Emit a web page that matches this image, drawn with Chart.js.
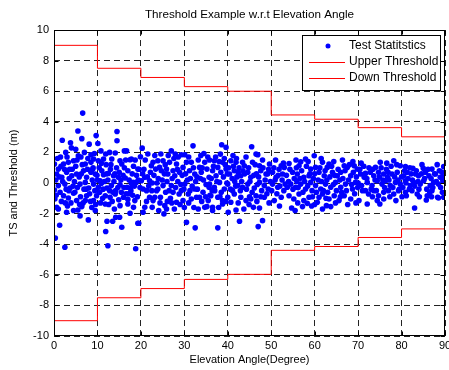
<!DOCTYPE html>
<html>
<head>
<meta charset="utf-8">
<script src="https://cdn.jsdelivr.net/npm/chart.js@4.4.1/dist/chart.umd.min.js"></script>
<style>
  html, body { margin: 0; padding: 0; background: #fff; }
  #wrap { width: 449px; height: 370px; }
</style>
</head>
<body>
<div id="wrap"><canvas id="thresholdChart" width="449" height="370"></canvas></div>
<script>
// Threshold steps (every 10 degrees)
const stepAngles = [0, 10, 20, 30, 40, 50, 60, 70, 80, 90];
const upperThreshold = [9, 7.5, 6.9, 6.3, 6.0, 4.45, 4.17, 3.62, 3.02, 3.02];
const downThreshold = [-9, -7.5, -6.9, -6.3, -5.97, -4.4, -4.15, -3.56, -3.0, -3.0];

// Tick labels
const angleTicks = [0, 10, 20, 30, 40, 50, 60, 70, 80, 90];
const tsTicks = [-10, -8, -6, -4, -2, 0, 2, 4, 6, 8, 10];

// Test statistics, [angle, value]
const testStats = [
  // 0 - 20 deg
  [6.6,4.57],[5.5,3.4],[1.9,2.8],[3.8,2.63],[6.4,2.9],[8.1,2.54],[9.7,3.1],[10.1,2.58],[14.5,3.37],[14.5,2.76],
  [10.8,2.1],[5.0,2.2],[2.7,2.0],[16.2,2.1],[14.1,1.96],[9.3,1.93],[8.5,1.85],[0.1,1.24],[1.0,0.91],[2.2,1.24],
  [3.3,1.35],[4.5,1.46],[5.6,1.78],[6.2,1.7],[7.2,1.24],[8.5,1.35],[9.1,1.57],[10.2,1.46],[11.4,1.57],[13.3,1.57],
  [15.2,1.46],[15.6,1.24],[17.5,1.52],[0.6,0.59],[1.8,0.37],[2.9,0.7],[4.1,0.48],[5.2,0.59],[6.8,0.8],[7.5,0.37],
  [8.5,0.7],[9.5,0.59],[10.6,0.15],[11.4,0.54],[12.5,0.63],[13.7,0.48],[14.8,0.37],[16.4,0.33],[17.3,0.2],[0.1,-0.46],
  [1.0,-0.17],[2.5,-0.07],[3.7,-0.33],[4.8,-0.61],[6.0,-0.07],[7.2,0.04],[8.0,-0.33],[9.1,-0.07],[10.2,-0.28],[10.9,-0.02],
  [12.2,-0.33],[13.2,-0.17],[14.2,-0.5],[15.2,-0.11],[16.8,-0.28],[17.8,-0.02],[0.2,-1.04],[2.2,-0.83],[3.3,-0.98],[4.5,-0.67],
  [5.2,-1.15],[7.2,-1.15],[7.5,-0.83],[9.1,-1.15],[9.8,-0.83],[11.8,-0.83],[12.9,-0.93],[14.1,-0.72],[16.0,-0.93],[17.0,-1.07],
  [0.6,-1.59],[1.0,-1.7],[2.9,-1.91],[4.5,-1.8],[5.5,-1.76],[6.4,-1.54],[9.5,-1.8],[11.8,-1.37],[15.2,-1.48],[17.0,-1.37],
  [17.5,-1.98],[6.0,-2.15],[7.9,-2.41],[12.2,-2.5],[13.5,-2.5],[14.2,-2.24],[15.1,-2.24],[15.6,-2.89],[1.3,-2.76],[11.9,-3.17],
  [0.3,-3.6],[2.5,-4.2],[12.4,-4.1],[18.8,-4.3],[19.5,-2.63],[19.9,1.71],[16.7,2.1],
  [0.4,0.2],[0.8,1.6],[1.4,-0.6],[1.6,1.1],[2.0,0.1],[2.4,0.9],[2.8,-0.4],[3.0,1.7],[3.5,0.3],[3.9,-1.3],
  [4.2,0.9],[4.7,0.1],[5.0,1.1],[5.4,-0.3],[5.8,0.4],[6.1,-0.9],[6.5,1.2],[6.9,-0.4],[7.0,2.0],[7.7,0.9],
  [8.2,-0.7],[8.8,0.2],[9.0,1.0],[9.4,-0.5],[9.9,0.5],[10.4,1.0],[10.5,-0.6],[11.0,0.8],[11.2,-1.0],[11.6,0.1],
  [12.0,1.2],[12.4,0.2],[12.8,-0.5],[13.0,0.9],[13.4,-1.2],[13.8,0.1],[14.4,1.0],[14.7,-0.3],[15.0,0.7],[15.5,-0.6],
  [15.9,0.5],[16.2,1.0],[16.6,-0.7],[17.0,0.8],[17.7,-0.5],[18.0,0.6],[18.3,1.1],[18.5,-0.2],[19.0,0.5],[19.2,-0.9],
  [19.6,0.9],[19.8,-0.3],[3.1,-1.5],[8.7,-1.6],[13.9,-1.7],[6.7,-1.3],[1.7,-1.2],[10.7,-1.3],[4.0,2.3],[11.9,1.9],[12.8,2.0],
  [0.5,-0.8],[1.2,0.4],[1.5,1.7],[2.6,-1.3],[3.4,-0.5],[3.6,0.9],[4.4,-0.2],[5.3,1.5],[5.9,-1.4],[6.3,0.6],
  [7.4,-0.4],[7.8,1.6],[8.4,-1.2],[8.9,0.9],[9.6,-1.4],[10.0,0.2],[10.9,1.3],[11.3,-0.4],[12.1,0.6],[12.6,-1.4],
  [13.1,1.2],[13.6,-0.6],[14.0,0.6],[14.9,-1.1],[15.4,0.2],[16.1,-0.3],[16.5,1.5],[17.2,-0.7],[18.1,-0.8],[18.7,1.5],[19.4,0.2],
  // 20 - 35 deg
  [20.3,2.28],[27.0,2.1],[29.3,1.85],[30.1,1.85],[32.0,2.43],[34.5,1.93],[17.8,1.57],[19.3,0.91],[18.2,0.04],[17.6,-0.33],
  [18.9,0.04],[20.1,0.15],[20.9,0.37],[20.5,-0.39],[22.0,0.15],[22.4,1.13],[22.8,1.35],[23.4,0.91],[23.9,1.46],[24.3,1.02],
  [24.7,0.8],[25.1,1.46],[25.9,0.91],[26.2,0.59],[26.6,1.35],[27.4,0.8],[27.8,0.48],[28.2,1.24],[28.9,0.7],[29.7,1.02],
  [30.5,1.35],[31.2,0.8],[31.6,1.35],[32.4,0.59],[33.2,1.5],[33.5,1.02],[33.9,0.7],[34.7,1.35],[35.2,0.91],[35.7,0.37],
  [21.3,-0.5],[22.0,-0.93],[22.8,-1.15],[22.6,-1.59],[23.2,-0.93],[23.9,-0.39],[24.5,-0.93],[25.1,-0.17],[25.5,-1.48],[25.9,-1.7],
  [25.3,-2.02],[26.5,-0.5],[27.0,-0.17],[27.4,-0.61],[28.2,-1.26],[28.8,-0.72],[29.3,-0.5],[29.7,-1.15],[30.1,-0.07],[30.9,-0.72],
  [31.6,-1.04],[32.4,-0.39],[32.8,-0.93],[33.5,-0.93],[33.2,-1.7],[34.3,-0.61],[34.7,-1.59],[35.2,-1.54],[35.7,-0.28],[30.5,-2.57],
  [32.5,-2.93],[19.3,-2.63],[18.3,-1.59],[18.6,-1.15],[20.9,-1.59],[20.5,-1.91],
  [20.7,0.9],[21.0,1.5],[21.5,0.4],[21.8,-0.2],[22.2,0.7],[22.6,0.0],[23.0,0.5],[23.6,-0.5],[24.0,0.3],[24.4,-1.3],
  [24.9,0.2],[25.4,0.6],[25.7,-0.6],[26.0,0.1],[26.3,1.8],[26.8,-1.0],[27.2,0.3],[27.6,1.6],[28.0,-0.3],[28.5,0.1],
  [28.6,1.7],[29.0,-1.4],[29.5,0.5],[29.9,-0.4],[30.3,0.6],[30.7,0.2],[31.0,-1.3],[31.4,0.3],[31.8,-0.2],[32.1,1.0],
  [32.6,0.1],[33.0,-0.4],[33.7,0.3],[34.0,-1.2],[34.4,0.2],[35.0,-0.1],[35.4,1.7],[35.9,-0.8],[21.6,1.9],[23.2,1.8],
  [24.6,1.9],[27.9,1.9],[31.0,1.7],[33.8,1.8],[24.1,-1.8],[27.7,-1.7],[30.0,-1.6],[32.2,-1.6],[21.3,-1.2],[26.1,-1.2],
  [20.4,0.6],[22.5,-0.5],[23.7,0.0],[25.6,1.2],[27.1,-1.3],[28.4,0.9],[29.2,-0.1],[31.3,-0.5],[32.9,0.4],[34.1,1.0],[34.9,-0.9],
  // 35 - 53 deg
  [38.6,2.5],[39.6,2.33],[38.3,1.89],[45.5,2.37],[46.5,1.89],[46.9,1.85],[35.8,1.5],[36.9,1.46],[37.7,1.02],[38.8,1.35],
  [40.7,1.46],[41.9,1.35],[43.4,1.35],[43.8,1.13],[45.7,1.35],[47.3,1.13],[49.6,1.24],[52.3,1.13],[53.0,1.02],[36.5,0.8],
  [37.3,0.48],[38.4,0.7],[39.6,0.91],[40.4,0.59],[41.5,0.8],[42.4,0.7],[43.0,0.48],[44.6,0.7],[45.3,0.37],[47.6,0.8],
  [48.8,0.59],[50.3,0.7],[51.1,0.37],[52.6,0.59],[35.8,-0.07],[36.9,-0.28],[38.1,0.04],[39.2,-0.39],[40.0,-0.07],[41.1,-0.5],
  [42.3,-0.17],[43.4,-0.28],[44.6,-0.07],[46.1,-0.33],[47.3,0.04],[48.4,-0.17],[49.3,-0.39],[50.3,-0.07],[51.5,-0.28],[53.2,-0.07],
  [36.1,-0.83],[37.7,-0.93],[38.8,-1.15],[40.0,-0.93],[41.5,-0.72],[43.0,-0.93],[44.2,-1.15],[45.3,-1.04],[46.5,-0.83],[48.4,-0.93],
  [50.7,-1.15],[52.3,-0.93],[35.5,-1.15],[36.5,-1.59],[36.5,-1.8],[38.8,-1.37],[40.1,-1.91],[40.7,-1.26],[41.9,-1.76],[43.7,-1.7],
  [45.9,-1.59],[47.3,-1.63],[42.7,-2.5],[47.0,-2.85],[48.0,-2.46],[37.7,-2.93],
  [36.2,0.3],[36.7,1.1],[37.0,-0.5],[37.5,0.1],[38.0,1.4],[38.5,-0.6],[39.0,0.4],[39.4,1.2],[39.8,0.0],[40.2,1.0],
  [40.6,-0.4],[41.0,0.3],[41.3,1.1],[41.8,-0.2],[42.1,0.4],[42.6,1.0],[42.9,-0.5],[43.2,0.1],[43.9,0.6],[44.3,-0.4],
  [44.8,1.0],[45.1,0.1],[45.6,-0.6],[46.0,0.5],[46.3,1.2],[46.8,-0.1],[47.1,0.4],[47.8,-0.5],[48.1,1.0],[48.6,0.2],
  [49.0,-0.7],[49.2,0.6],[49.8,0.1],[50.1,-0.5],[50.6,1.0],[50.9,0.2],[51.3,-0.7],[51.8,0.9],[52.0,-0.2],[52.5,0.2],
  [52.9,-0.5],[37.2,1.7],[39.2,1.6],[41.2,1.8],[42.0,1.6],[44.2,1.7],[48.0,1.5],[51.0,1.5],[37.9,-1.6],[39.5,-1.2],
  [42.4,-1.3],[44.9,-1.4],[46.7,-1.2],[49.5,-1.3],[51.9,-1.5],
  [36.4,-0.5],[38.2,-0.9],[39.9,0.6],[41.6,0.1],[43.5,0.8],[45.0,-0.9],[46.6,0.6],[47.6,-0.9],[49.4,0.9],[51.6,0.5],[52.8,1.3],
  // 53 - 71 deg
  [59.9,1.78],[57.9,1.57],[56.8,1.39],[56.4,1.13],[54.1,1.28],[61.8,1.35],[62.9,1.02],[63.3,1.24],[66.8,1.13],[67.5,1.02],
  [69.1,1.13],[69.8,0.91],[59.1,0.91],[60.2,1.02],[54.9,0.7],[56.0,0.59],[57.5,0.37],[58.7,0.48],[61.0,0.7],[62.2,0.48],
  [64.1,0.7],[65.2,0.48],[66.0,0.7],[68.3,0.48],[70.6,0.59],[71.4,0.37],[53.7,-0.28],[54.5,-0.07],[55.6,-0.28],[56.8,-0.07],
  [57.9,-0.39],[59.1,0.04],[60.2,-0.17],[61.4,-0.39],[62.5,-0.07],[63.7,-0.28],[64.8,0.04],[66.0,-0.28],[67.1,-0.07],[68.7,-0.39],
  [69.4,0.04],[70.8,-0.17],[54.1,-0.83],[55.2,-1.04],[56.4,-0.72],[57.5,-1.15],[58.7,-0.93],[61.0,-0.93],[61.8,-0.72],[63.3,-1.04],
  [64.5,-0.83],[65.6,-1.15],[66.8,-0.83],[68.3,-1.04],[70.2,-1.15],[54.7,-1.63],[55.5,-1.8],[57.2,-1.54],[59.3,-1.5],[60.6,-1.26],
  [61.8,-1.7],[62.7,-1.48],[63.7,-1.54],[58.3,-1.33],
  [53.5,0.5],[54.0,0.1],[54.3,0.9],[55.0,-0.4],[55.3,0.3],[55.8,1.0],[56.2,-0.3],[56.6,0.3],[57.0,0.8],[57.3,-0.6],
  [57.7,0.1],[58.1,1.1],[58.4,-0.2],[58.9,0.6],[59.4,-0.5],[59.7,0.3],[60.0,0.6],[60.4,-0.6],[60.8,0.2],[61.2,1.0],
  [61.6,0.1],[62.0,-0.5],[62.4,0.8],[62.8,0.2],[63.0,-0.6],[63.5,0.4],[63.9,1.1],[64.3,-0.1],[64.6,0.5],[65.0,-0.5],
  [65.4,0.9],[65.8,0.2],[66.2,-0.6],[66.5,0.3],[67.0,0.8],[67.3,-0.5],[67.8,0.2],[68.0,1.2],[68.5,-0.1],[68.9,0.7],
  [69.2,-0.7],[69.6,0.4],[70.0,0.0],[70.4,0.9],[71.0,-0.5],[55.7,1.5],[58.5,1.4],[61.5,1.6],[64.4,1.4],[66.4,1.5],
  [68.8,1.4],[70.7,1.3],[56.1,-1.3],[60.0,-1.4],[64.8,-1.3],[67.6,-1.4],[69.5,-1.3],
  [55.9,0.1],[59.5,-0.9],[62.6,-1.0],[65.9,-0.9],[69.9,-0.3],
  // 71 - 90 deg
  [78.2,1.46],[75.1,1.35],[74.0,1.02],[79.7,1.13],[80.9,1.07],[82.6,0.96],[85.0,0.96],[87.0,0.91],[89.7,1.07],[71.7,0.63],
  [72.8,0.7],[73.6,0.48],[74.7,0.7],[75.9,0.59],[76.8,0.37],[77.8,0.59],[79.0,0.7],[80.5,0.48],[81.3,0.7],[83.2,0.59],
  [83.9,0.48],[85.5,0.7],[86.3,0.48],[87.8,0.59],[88.9,0.37],[89.3,0.7],[72.1,0.04],[73.2,-0.17],[74.4,0.15],[75.5,-0.07],
  [76.3,0.15],[77.4,-0.17],[78.6,0.04],[79.7,-0.07],[80.9,0.15],[82.0,-0.17],[82.8,0.04],[84.3,-0.07],[85.1,0.15],[86.6,-0.17],
  [87.4,0.04],[88.5,-0.07],[89.5,0.15],[71.7,-0.5],[72.4,-0.72],[73.6,-0.5],[74.7,-0.83],[75.9,-0.61],[77.0,-0.5],[78.2,-0.72],
  [79.3,-0.5],[80.9,-0.61],[82.4,-0.5],[83.6,-0.72],[85.9,-0.83],[87.0,-0.5],[88.3,-0.93],[89.7,-0.93],[72.1,-1.37],[74.4,-1.15],
  [75.0,-1.37],[75.9,-1.04],[78.7,-1.15],[81.1,-0.83],[85.7,-1.11],[88.5,-0.98],[83.0,-1.63],
  [71.3,1.1],[72.0,0.3],[72.5,1.0],[73.0,-0.4],[73.4,0.9],[73.9,0.2],[74.2,-0.5],[74.9,0.4],[75.3,1.0],[75.7,0.2],
  [76.1,-0.3],[76.5,0.9],[77.1,0.2],[77.6,1.1],[78.0,-0.3],[78.4,0.4],[78.9,1.2],[79.2,0.2],[79.5,-0.4],[80.0,0.4],
  [80.3,-0.3],[80.7,0.8],[81.0,0.0],[81.5,0.3],[81.8,-0.4],[82.2,0.6],[82.5,0.2],[83.0,-0.2],[83.4,0.8],[83.8,0.1],
  [84.0,-0.4],[84.6,0.6],[85.3,0.3],[85.8,-0.4],[86.1,0.9],[86.8,0.3],[87.2,-0.3],[87.6,0.6],[88.0,0.1],[88.7,0.8],
  [89.0,-0.3],[89.8,0.4],[77.3,-0.9],[80.1,-0.9],[84.1,-0.9],[86.9,-0.9],[76.6,1.3],[84.7,1.2],[88.2,1.2],
  [73.3,-0.9],[76.9,0.7],[81.9,1.0],[86.5,-0.6],[89.4,-0.6]
];

const FONT = "'Liberation Sans', Arial, Helvetica, sans-serif";

// box + inward ticks like matlab, then the legend on top
const matlabAxes = {
  id: 'matlabAxes',
  afterLayout(chart) {
    // centre the title over the plot box, not the whole canvas
    if (chart.titleBlock) {
      chart.titleBlock.left = chart.chartArea.left;
      chart.titleBlock.right = chart.chartArea.right;
    }
  },
  afterDraw(chart) {
    const ctx = chart.ctx;
    const a = chart.chartArea;
    const xs = chart.scales.x, ys = chart.scales.y;
    const L = Math.round(a.left) + 0.5, R = Math.round(a.right) - 0.5;
    const T = Math.round(a.top) + 0.5, B = Math.round(a.bottom) - 0.5;
    ctx.save();
    ctx.strokeStyle = '#000';
    ctx.lineWidth = 1;
    ctx.setLineDash([]);
    ctx.strokeRect(L, T, R - L, B - T);
    ctx.beginPath();
    angleTicks.forEach(v => {
      const px = Math.round(xs.getPixelForValue(v)) + 0.5;
      ctx.moveTo(px, B); ctx.lineTo(px, B - 4);
      ctx.moveTo(px, T); ctx.lineTo(px, T + 4);
    });
    tsTicks.forEach(v => {
      const py = Math.round(ys.getPixelForValue(v)) + 0.5;
      ctx.moveTo(L, py); ctx.lineTo(L + 4, py);
      ctx.moveTo(R, py); ctx.lineTo(R - 4, py);
    });
    ctx.stroke();

    // legend box
    const lx = 302.5, ly = 35.5, lw = 138, lh = 55;
    ctx.fillStyle = '#fff';
    ctx.fillRect(lx, ly, lw, lh);
    ctx.strokeRect(lx, ly, lw, lh);
    ctx.font = '12px ' + FONT;
    ctx.textBaseline = 'middle';
    ctx.textAlign = 'left';
    const rows = chart.data.datasets;
    rows.forEach((ds, i) => {
      const cy = 46 + i * 16;
      if (i === 0) {
        ctx.fillStyle = ds.backgroundColor;
        ctx.beginPath();
        ctx.arc(328, cy, 2.5, 0, Math.PI * 2);
        ctx.fill();
      } else {
        ctx.strokeStyle = ds.borderColor;
        ctx.beginPath();
        ctx.moveTo(309, cy + 0.5); ctx.lineTo(345, cy + 0.5);
        ctx.stroke();
      }
      ctx.fillStyle = '#000';
      ctx.fillText(ds.label, 349, cy);
    });
    ctx.restore();
  }
};

const ctx = document.getElementById('thresholdChart').getContext('2d');
new Chart(ctx, {
  type: 'scatter',
  data: {
    datasets: [
      {
        label: 'Test Statitstics',
        data: testStats.map(p => ({ x: p[0], y: p[1] })),
        backgroundColor: '#0000ff',
        borderWidth: 0,
        pointRadius: 2.8,
        order: 2
      },
      {
        label: 'Upper Threshold',
        type: 'line',
        data: stepAngles.map((a, i) => ({ x: a, y: upperThreshold[i] })),
        borderColor: '#ff0000',
        borderWidth: 1,
        pointRadius: 0,
        stepped: 'before',
        fill: false,
        order: 1
      },
      {
        label: 'Down Threshold',
        type: 'line',
        data: stepAngles.map((a, i) => ({ x: a, y: downThreshold[i] })),
        borderColor: '#ff0000',
        borderWidth: 1,
        pointRadius: 0,
        stepped: 'before',
        fill: false,
        order: 1
      }
    ]
  },
  options: {
    responsive: false,
    animation: false,
    devicePixelRatio: 1,
    layout: { padding: { left: 0, right: 4, top: 0, bottom: 0 } },
    plugins: {
      legend: { display: false },
      tooltip: { enabled: false },
      title: {
        display: true,
        text: 'Threshold Example w.r.t Elevation Angle',
        color: '#000',
        font: { family: FONT, size: 11.7, weight: 'normal' },
        padding: { top: 8, bottom: 8 }
      }
    },
    scales: {
      x: {
        type: 'linear',
        min: 0,
        max: 90,
        afterBuildTicks: s => { s.ticks = angleTicks.map(v => ({ value: v })); },
        afterFit: s => { s.height = 34; s.paddingLeft = 0; s.paddingRight = 0; },
        ticks: { color: '#000', font: { family: FONT, size: 11 }, padding: 3, maxRotation: 0, autoSkip: false },
        grid: { color: '#222', lineWidth: 1, drawTicks: false },
        border: { display: false, dash: [6, 4] },
        title: {
          display: true,
          text: 'Elevation Angle(Degree)',
          color: '#000',
          font: { family: FONT, size: 11 },
          padding: { top: 0, bottom: 3 }
        }
      },
      y: {
        type: 'linear',
        min: -10,
        max: 10,
        afterBuildTicks: s => { s.ticks = tsTicks.map(v => ({ value: v })); },
        afterFit: s => { s.width = 54; s.paddingTop = 0; s.paddingBottom = 0; },
        ticks: { color: '#000', font: { family: FONT, size: 11 }, padding: 5, autoSkip: false },
        grid: { color: '#222', lineWidth: 1, drawTicks: false },
        border: { display: false, dash: [6, 4] },
        title: {
          display: true,
          text: 'TS and Threshold (m)',
          color: '#000',
          font: { family: FONT, size: 11 },
          padding: { top: 7, bottom: 0 }
        }
      }
    }
  },
  plugins: [matlabAxes]
});
</script>
</body>
</html>
